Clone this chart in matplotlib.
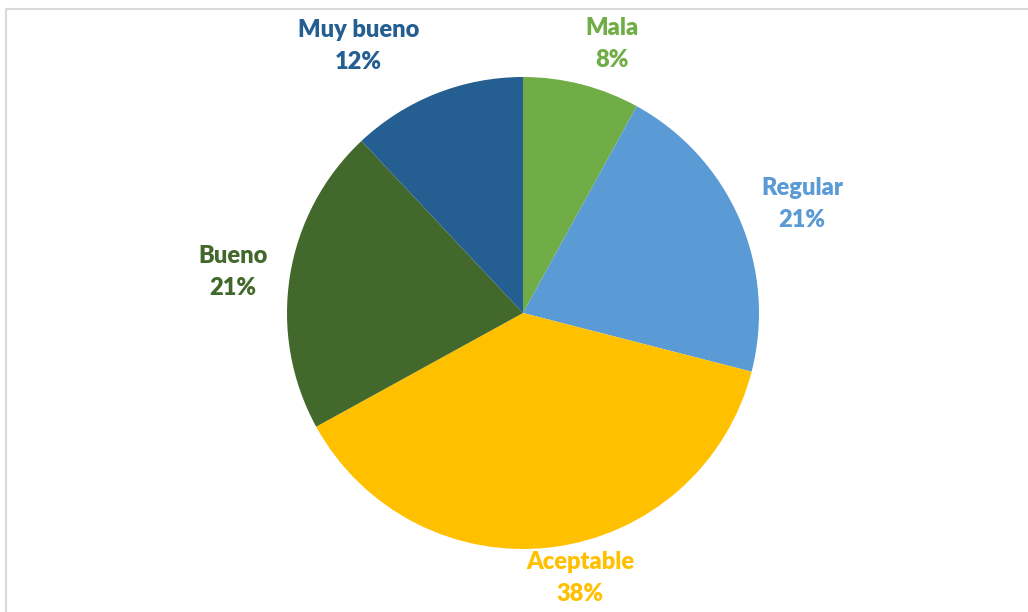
import numpy as np
import matplotlib.pyplot as plt
from matplotlib.patches import Rectangle

categories = ['Mala', 'Regular', 'Aceptable', 'Bueno', 'Muy bueno']
values = [8, 21, 38, 21, 12]
colors = ['#70AD47', '#5B9BD5', '#FFC000', '#43682B', '#255E91']

# label placement relative to wedge middle (radius factor, angle nudge in degrees)
label_r = [1.2, 1.27, 1.15, 1.24, 1.33]
label_nudge = [-4, -2, 5, 1, 10]

W, H = 1028, 612
cx, cy, R = 523, 313, 236

fig = plt.figure(figsize=(W / 100, H / 100), dpi=100)
ax = fig.add_axes([0, 0, 1, 1])

wedges, _ = ax.pie(values, colors=colors, startangle=90, counterclock=False,
                   radius=1, center=(0, 0), frame=True,
                   wedgeprops=dict(linewidth=0))
ax.set_xlim(-cx / R, (W - cx) / R)
ax.set_ylim(-(H - cy) / R, cy / R)
ax.set_aspect('equal')
ax.axis('off')

total = sum(values)
for w, name, v, c, rf, dn in zip(wedges, categories, values, colors, label_r, label_nudge):
    mid = np.deg2rad((w.theta1 + w.theta2) / 2 + dn)
    x, y = rf * np.cos(mid), rf * np.sin(mid)
    ax.text(x, y, f'{name}\n{round(v / total * 100)}%', color=c, ha='center', va='center',
            fontsize=17, fontweight='heavy', family=['Lato', 'DejaVu Sans'], linespacing=1.55)

# chart frame, cut off at right and bottom
fig.patches.append(Rectangle((6 / W, -0.1), 1.2, (H - 9) / H + 0.1, transform=fig.transFigure,
                             fill=False, edgecolor='#d9d9d9', linewidth=1.5))

plt.savefig('out.png', dpi=100)
